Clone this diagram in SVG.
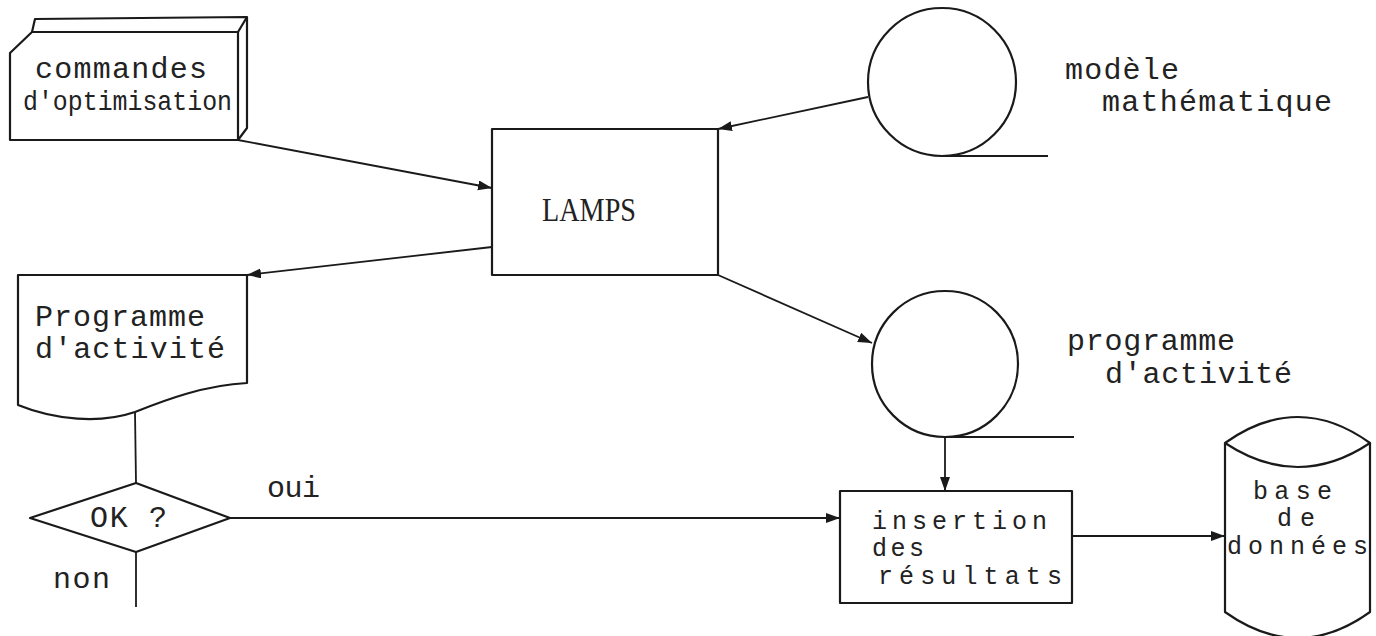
<svg xmlns="http://www.w3.org/2000/svg" width="1376" height="636" viewBox="0 0 1376 636">
<style>
.shape{fill:none;stroke:#1a1a1a;stroke-width:2.2;stroke-linejoin:round}
.conn{fill:none;stroke:#1a1a1a;stroke-width:1.8}
.t{font-family:"Liberation Mono","DejaVu Sans Mono",monospace;font-size:30px;fill:#222}
.u{font-family:"Liberation Mono","DejaVu Sans Mono",monospace;font-size:27px;fill:#222}
.v{font-family:"Liberation Mono","DejaVu Sans Mono",monospace;font-size:25px;fill:#222}
.s{font-family:"Liberation Serif","Times New Roman",serif;font-size:33px;fill:#222}
</style>
<defs>
<marker id="ah" markerUnits="userSpaceOnUse" markerWidth="15" markerHeight="11" refX="14" refY="5" orient="auto">
<path d="M0,0 L14,5 L0,10 Z" fill="#1a1a1a"/>
</marker>
</defs>
<rect width="1376" height="636" fill="#ffffff"/>

<g id="commandes">
<path class="shape" d="M10,53 L32,32 L238,32 L238,140 L10,140 Z"/>
<path class="shape" d="M32,32 L35,19 L247,17 L238,32"/>
<path class="shape" d="M247,17 L247,128 L238,140"/>
<text class="t" x="35" y="78" textLength="172" lengthAdjust="spacing">commandes</text>
<text class="u" x="23" y="110" textLength="209" lengthAdjust="spacingAndGlyphs">d'optimisation</text>
</g>

<g id="modele">
<circle class="shape" cx="942" cy="82" r="74"/>
<line class="shape" x1="942" y1="156" x2="1048" y2="156"/>
<text class="t" x="1065" y="79" textLength="114" lengthAdjust="spacing">modèle</text>
<text class="t" x="1102" y="111" textLength="230" lengthAdjust="spacing">mathématique</text>
</g>

<g id="lamps">
<rect class="shape" x="492" y="129" width="226" height="146"/>
<text class="s" x="542" y="221" textLength="94" lengthAdjust="spacingAndGlyphs">LAMPS</text>
</g>

<g id="programme-doc">
<path class="shape" d="M18,275 L247,275 L247,383 C205,385 165,400 135,412 C100,424 55,420 18,405 Z"/>
<text class="t" x="35" y="326" textLength="170" lengthAdjust="spacing">Programme</text>
<text class="t" x="35" y="358" textLength="190" lengthAdjust="spacing">d'activité</text>
</g>

<g id="ok">
<path class="shape" d="M30,518 L136,483 L230,518 L136,552 Z"/>
<text class="t" x="90" y="527" textLength="77" lengthAdjust="spacing">OK ?</text>
</g>

<g id="programme-file">
<circle class="shape" cx="945" cy="364" r="73"/>
<line class="shape" x1="945" y1="437" x2="1074" y2="437"/>
<text class="t" x="1067" y="350" textLength="168" lengthAdjust="spacing">programme</text>
<text class="t" x="1105" y="383" textLength="187" lengthAdjust="spacing">d'activité</text>
</g>

<g id="insertion">
<rect class="shape" x="840" y="491" width="232" height="112"/>
<text class="v" x="872" y="529" textLength="175" lengthAdjust="spacing">insertion</text>
<text class="v" x="872" y="556" textLength="52" lengthAdjust="spacing">des</text>
<text class="v" x="878" y="584" textLength="184" lengthAdjust="spacing">résultats</text>
</g>

<g id="base">
<path class="shape" d="M1225,443 Q1298,391 1370,443 Q1298,491 1225,443 Z"/>
<path class="shape" d="M1225,443 L1225,612 Q1298,664 1370,612 L1370,443"/>
<text class="v" x="1253" y="499" textLength="79" lengthAdjust="spacing">base</text>
<text class="v" x="1277" y="526" textLength="38" lengthAdjust="spacing">de</text>
<text class="v" x="1227" y="554" textLength="141" lengthAdjust="spacing">données</text>
</g>

<g id="connectors">
<line class="conn" x1="238" y1="140" x2="492" y2="188" marker-end="url(#ah)"/>
<line class="conn" x1="868" y1="97" x2="718" y2="129" marker-end="url(#ah)"/>
<line class="conn" x1="492" y1="247" x2="247" y2="275" marker-end="url(#ah)"/>
<line class="conn" x1="718" y1="275" x2="872" y2="343" marker-end="url(#ah)"/>
<line class="conn" x1="945" y1="437" x2="945" y2="491" marker-end="url(#ah)"/>
<line class="conn" x1="230" y1="518" x2="840" y2="518" marker-end="url(#ah)"/>
<line class="conn" x1="1072" y1="536" x2="1225" y2="536" marker-end="url(#ah)"/>
<line class="conn" x1="135" y1="412" x2="136" y2="483"/>
<line class="conn" x1="136" y1="552" x2="136" y2="607"/>
<text class="t" x="267" y="497" textLength="53" lengthAdjust="spacing">oui</text>
<text class="t" x="53" y="588" textLength="57" lengthAdjust="spacing">non</text>
</g>
</svg>
